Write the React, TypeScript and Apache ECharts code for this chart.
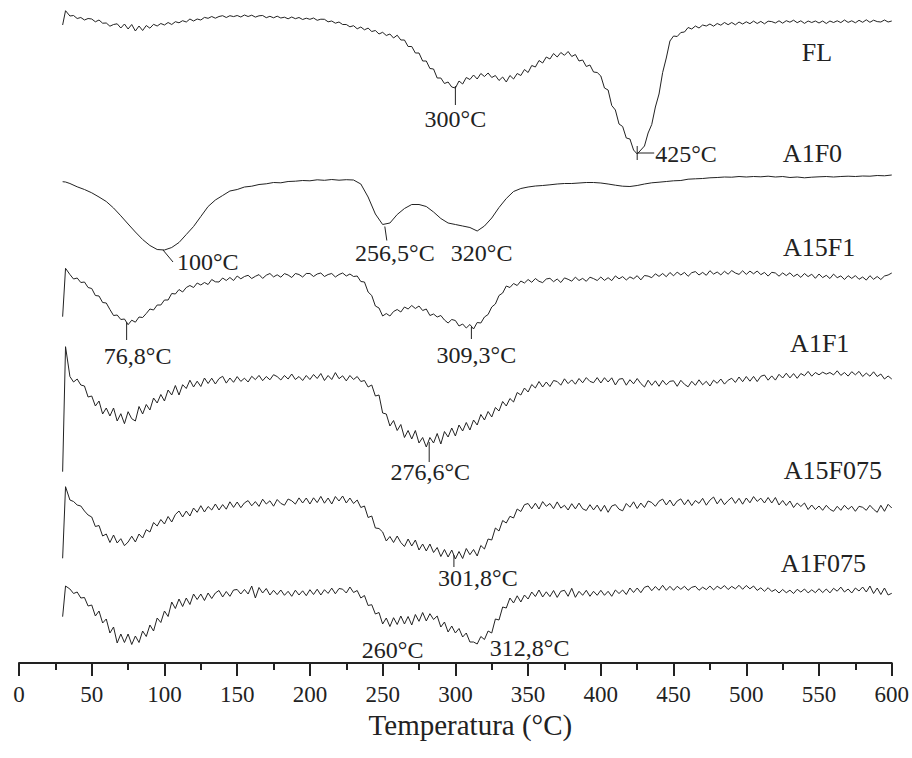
import React, { useEffect, useRef } from "react";
import * as echarts from "echarts";

// Temperatures (°C) at which the noisy curves were read
const TEMPS_FINE = [
  30, 32, 35, 37.5, 40, 42.5, 45, 47.5,
  50, 52.5, 55, 57.5, 60, 62.5, 65, 67.5, 70, 72.5, 75, 77.5, 80, 82.5, 85, 87.5, 90, 92.5, 95, 97.5,
  100, 102.5, 105, 107.5, 110, 112.5, 115, 117.5, 120, 122.5, 125, 127.5, 130, 132.5, 135, 137.5, 140, 142.5, 145, 147.5,
  150, 152.5, 155, 157.5, 160, 162.5, 165, 167.5, 170, 172.5, 175, 177.5, 180, 182.5, 185, 187.5, 190, 192.5, 195, 197.5,
  200, 202.5, 205, 207.5, 210, 212.5, 215, 217.5, 220, 222.5, 225, 227.5, 230, 232.5, 235, 237.5, 240, 242.5, 245, 247.5,
  250, 252.5, 255, 257.5, 260, 262.5, 265, 267.5, 270, 272.5, 275, 277.5, 280, 282.5, 285, 287.5, 290, 292.5, 295, 297.5,
  300, 302.5, 305, 307.5, 310, 312.5, 315, 317.5, 320, 322.5, 325, 327.5, 330, 332.5, 335, 337.5, 340, 342.5, 345, 347.5,
  350, 352.5, 355, 357.5, 360, 362.5, 365, 367.5, 370, 372.5, 375, 377.5, 380, 382.5, 385, 387.5, 390, 392.5, 395, 397.5,
  400, 402.5, 405, 407.5, 410, 412.5, 415, 417.5, 420, 422.5, 425, 427.5, 430, 432.5, 435, 437.5, 440, 442.5, 445, 447.5,
  450, 452.5, 455, 457.5, 460, 462.5, 465, 467.5, 470, 472.5, 475, 477.5, 480, 482.5, 485, 487.5, 490, 492.5, 495, 497.5,
  500, 502.5, 505, 507.5, 510, 512.5, 515, 517.5, 520, 522.5, 525, 527.5, 530, 532.5, 535, 537.5, 540, 542.5, 545, 547.5,
  550, 552.5, 555, 557.5, 560, 562.5, 565, 567.5, 570, 572.5, 575, 577.5, 580, 582.5, 585, 587.5, 590, 592.5, 595, 597.5,
  600,
];

// Temperatures (°C) at which the smooth A1F0 curve was read
const TEMPS_COARSE = [
  30, 32, 35, 40, 45,
  50, 55, 60, 65, 70, 75, 80, 85, 90, 95,
  100, 105, 110, 115, 120, 125, 130, 135, 140, 145,
  150, 155, 160, 165, 170, 175, 180, 185, 190, 195,
  200, 205, 210, 215, 220, 225, 230, 235, 240, 245,
  250, 255, 260, 265, 270, 275, 280, 285, 290, 295,
  300, 305, 310, 315, 320, 325, 330, 335, 340, 345,
  350, 355, 360, 365, 370, 375, 380, 385, 390, 395,
  400, 405, 410, 415, 420, 425, 430, 435, 440, 445,
  450, 455, 460, 465, 470, 475, 480, 485, 490, 495,
  500, 505, 510, 515, 520, 525, 530, 535, 540, 545,
  550, 555, 560, 565, 570, 575, 580, 585, 590, 595,
  600,
];

// DTG signals (arbitrary units) relative to each curve's own reference
const FL = [
  -5, 9.3, 4, 4.5, 1.5, 2.5, 0, 1.5,
  1, -1.8, 0, -3.2, -3, -6.2, -4.5, -3.8, -8, -4, -9, -4.5, -11, -6, -10.5, -5.5, -8.2, -4.3, -6, -3.5,
  -5, -2.5, -4.5, -1.7, -2.8, -0.7, -2, 1, -1, 1, 0, 2.6, 1.7, 3.5, 1.8, 3.5, 4.3, 2.5, 4.3, 3.4,
  4.5, 3, 5, 3.5, 4.8, 2.9, 4.2, 4.5, 2.3, 3.7, 2.2, 3.8, 2, 2.8, 1.2, 3, 1.3, 2.5, 0.5, 1.8,
  0.7, 2, -0.3, 0.8, 0.7, -1.8, -1, -3.2, -2, -4.5, -4.5, -6.8, -5.7, -8.8, -7, -9.8, -8.1, -11.5, -10.5, -14,
  -12.3, -15.5, -14, -18, -15.2, -20, -20, -26.5, -26.5, -33, -33, -41, -41, -48.5, -49, -58, -58, -63.5, -62, -67,
  -68, -61, -64, -57.5, -59.5, -55, -59, -53.5, -56.5, -53, -57.5, -55.5, -60.5, -57, -62, -55.5, -59, -53.5, -55.5, -49.5,
  -52.5, -45.5, -47, -40.5, -43, -37, -39, -33.5, -37, -32.5, -35.3, -31.5, -36.5, -34.5, -41, -40, -46.5, -45, -52, -52.5,
  -56, -68, -70, -85.5, -90, -104, -106.5, -118, -119, -130, -134, -130, -126, -113, -104.5, -87, -74, -52.5, -38, -21,
  -16, -16.5, -12.5, -12, -7.5, -9, -6, -8, -5, -6, -4, -6.2, -3.5, -5.2, -2.5, -4.7, -2.5, -4.8, -2, -4,
  -1.8, -3.7, -1.1, -3.5, -1.4, -3.8, -1.2, -1.6, -3, -0.8, -3.2, -0.7, -2.2, -0.2, -2.7, -0.8, -3.4, -1, -2.5, -1,
  -3, -1, -3.5, -1, -2.5, -0.8, -2.6, 0, -2.4, -0.8, -2.8, -0.3, -2.3, 0.2, -2.3, -0.2, -1.6, -2, 0, -2,
  -1,
];
const A1F0 = [
  -1.7, -2, -3.5, -6.8, -9.5,
  -12.8, -17, -21.5, -28, -35.8, -44, -52, -59.5, -65.5, -69.5,
  -70, -67.5, -62.5, -54.5, -46.5, -36.5, -26.5, -20, -15.5, -11,
  -9.5, -7, -6.2, -4.5, -3.8, -2.5, -2.8, -1.5, -1.2, -0.5,
  -0.8, 0.2, -0.3, 0.5, -0.2, 0.3, 0, -4, -17, -34,
  -44.5, -43, -34.5, -28.5, -24.5, -24.5, -26.5, -32, -38.5, -43,
  -44.5, -46, -47.5, -51, -46, -38, -27.5, -18.5, -11.5, -8.5,
  -7, -6, -5.5, -4.8, -4, -3.5, -3.5, -3, -2.5, -2.5,
  -3, -4, -5.2, -6.2, -6.5, -5.5, -4, -2.8, -2.2, -1.5,
  -0.8, -0.5, 0.8, 1.2, 1.5, 2.2, 2.5, 3, 2.8, 3.5,
  3, 3.5, 3.2, 3.8, 3, 3.5, 2.5, 3, 2.2, 2.8,
  3.2, 3.5, 3, 3.5, 3.8, 3.5, 4, 3.8, 4.5, 4.2,
  5,
];
const A15F1 = [
  -41.7, 6.7, 0.5, -4, -3, -7.5, -7, -12.5,
  -13.5, -20.5, -21, -27.5, -28, -34.5, -40.5, -40, -44.5, -44, -49.7, -45.2, -47.2, -42, -42.5, -38.5, -34, -35, -30, -30,
  -25, -25, -18.5, -19, -14.5, -17, -12.5, -10.5, -12.5, -8, -10, -7.5, -9.5, -4.5, -6.8, -7, -3, -5.5, -2.5, -5.5,
  -1, -3.8, -1.5, -0.3, -3.5, -1.3, 0.4, -3.4, -0.2, 1.5, -1.9, 0.2, -2.2, 1.4, 0, -2.5, 1.5, 0.5, -2, 1.5,
  1.5, -1.5, 1, 2, -1.5, 0.5, 1.5, -2, 0.5, 2, -1, 1, -1.5, -1, -6.5, -7, -17, -20.5, -31, -33,
  -41, -38.5, -41, -36.5, -34.5, -37, -32, -34, -30.5, -33.5, -31, -35.5, -34, -40.5, -39, -42, -40.5, -45, -48, -44.5,
  -45.5, -51, -49, -53, -49.5, -54, -47.5, -48, -42, -39.5, -32, -29, -20.5, -18, -11, -12.5, -8.5, -10.5, -6, -8,
  -4.5, -7.3, -3.5, -6.3, -7.6, -4, -3.3, -6.7, -4, -7.5, -2.9, -4.3, -6.2, -2.1, -5.5, -3.4, -6.3, -2.2, -3.6, -5.5,
  -2, -5.4, -2.7, -5.6, -0.9, -3.8, -1.6, -5, -1.9, -3.8, -0.7, -4.9, -0.5, -1.1, -2.7, 1.2, -1.4, 1.5, -1.7, 2.5,
  -0.8, 2.9, 0, 2.6, -1.3, 2.3, 3.4, 0, 2.6, -0.3, 4.3, 0.9, 3, 0.1, 3.7, 0.8, 4.4, 2, 0.6, 4.2,
  0.6, 3.9, 1.2, 4, 0.3, 2.6, -1.1, 2.7, 2, -1.2, 2.1, -0.6, 2.2, -1.5, 0.8, -2.4, 1.5, -1.6, 0.8, -3.3,
  1, -2.6, -0.3, -3.5, 0.9, -2.7, -0.9, -4.5, -0.7, -3.4, -0.6, -4.3, -2, -5.1, -0.7, -4.3, -1.5, -4.5, -1, 0,
  2,
];
const A1F1 = [
  -93.7, 31.3, 1.5, -4, -1, -7, -8, -19,
  -18, -28, -23, -36, -30, -38, -30, -43, -35.7, -45.7, -33.7, -40.7, -43, -28.5, -36, -26.5, -32, -20, -25, -16.5,
  -23, -12, -17, -7.5, -17, -6.7, -10.5, -2.2, -9, -3.2, -8.5, 0, -5.5, -0.2, -6, -0.6, 1.7, -5.1, 0, -4.3,
  1.4, -3.4, -0.2, -4, 1.7, -1.6, 2.6, -2.7, 1.5, -1.8, 3.3, 1.4, -2, 2.5, -1, 4, -1.5, 1.5, -2.5, 2.5,
  -1.5, 3.5, -0.5, 4.5, -2.5, 2.5, -1.5, 5.4, -0.7, 2.2, -2.9, 2.5, -1.5, 1.5, -3.5, -2.5, -9, -7, -18, -17,
  -35, -36, -48, -42.5, -52.5, -46.5, -59.5, -52.5, -61, -52.5, -65, -59.5, -69, -59.5, -65, -55.5, -66, -53.5, -59, -50,
  -58, -47, -53, -44.5, -52, -42, -47, -36.5, -42, -33.5, -39, -29.5, -33, -23.5, -28, -20.5, -24, -14.5, -17, -10,
  -14, -6.5, -10, -3.5, -9, -4, -8.5, -2.5, -3.5, -7.2, -0.8, -5.6, -1.9, -6.2, -0.5, -4.8, 0.4, -3.4, -4.7, 0.4,
  -5, 0.3, -4, 0.2, -7, -1.2, -0.5, -7.2, -1.7, -5.8, -0.5, -5.5, -9, -2.2, -7.3, -2.8, -8.3, -2.3, -6.8, -3.3,
  -2.8, -8.3, -2.3, -6.3, -8.8, -3.3, -7.3, -1.8, -6.8, -3.3, -8, -2.2, -5.3, -1, -6.1, -2.2, -0.3, -4.4, 1, -3.7,
  1.5, -3.2, 1.6, -3.6, 1.7, 3, -2.2, 2.1, -2.1, 3.7, 0, 4.8, 0.1, 4.4, -0.3, 4.5, 2.3, 6.6, 1.8, 5.5,
  3.2, 5.8, 3.9, 5.5, 3.1, 7.2, 2.6, 5.5, 1.9, 6.3, 3.2, 6.6, 1.5, 4.9, 1.8, 6.2, 1.5, 4, -1, 2,
  -1,
];
const A15F075 = [
  -55.3, 16.3, 3, 1.5, -2, -3, -8, -12,
  -14, -23.5, -22.5, -33, -31, -39.5, -32, -40, -35.7, -42.7, -39, -33.2, -39, -31, -35, -26.7, -29, -19.5, -23, -16.5,
  -21, -13.5, -19, -11.5, -8, -14, -8, -13, -5, -9.3, -2.7, -9, -3.5, -7, -1, -7, -1.6, -6.2, 1.2, -4.4,
  1, -4.7, 0.1, 2.4, -2.8, 1.4, -3.4, 3.8, -1, 2.2, -3.2, 3.5, -0.4, -2.2, 4, 2.2, -1.1, 5.1, 0, 5,
  -1, 5.2, 0.4, 6.6, -0.2, 5, -1, 6.5, 2, 7, 0, 5, -0.5, 3, -4.5, -3, -14.5, -13, -25, -25.5,
  -29, -38, -33.5, -39.5, -33, -39.5, -43.5, -36, -43, -37, -47, -41, -48, -41, -49.5, -44.5, -53.5, -46.5, -54, -47,
  -56, -48.5, -55.5, -45.5, -51.7, -46.5, -53, -42.5, -46, -36, -37, -25, -28, -17.5, -20, -13.3, -15, -6, -8.5, -1.7,
  -0.5, -5.8, -0.2, -6, 1.4, -3.3, -0.5, -5.7, 1.1, -5.1, -2.3, -7, -0.7, -5.9, -0.1, -5.8, -7.5, -1.7, -6.9, -2.1,
  -8.3, -2.3, -9.3, -3, -1.6, -6.2, -7.8, -0.5, -4.2, 1.2, -5.5, 0, -4.5, 2, 0.5, -3.3, 1.8, 3.9, -2, 3,
  -3, 2, 4.1, -1.8, 3.3, -2.6, 2.5, -0.4, 4.7, -2.2, 2.9, 6, -0.9, 4.2, -1.7, 2.4, 5.5, -0.4, 4.7, -1.2,
  5, 0.2, 6.4, 1.6, 4.8, 0, 5.5, 0, 5.5, -2, 2.5, -2.5, 2, -4.5, 0, -3.5, 0, -6.5, -2, -6.5,
  -3, -7.3, -2.3, -6.3, -8.3, -3.3, -7.3, -2.3, -6.3, -3.3, -8.3, -3.3, -4.3, -7.3, -2.3, -6.3, -9.3, -2.3, -8.3, -1.3,
  -5,
];
const A1F075 = [
  -26.7, 4, 1, -3.5, -2, -8, -7.5, -16,
  -15, -26, -21, -33, -29, -43, -37, -53, -44, -52.5, -44, -54.5, -46, -52.5, -41, -46.5, -35, -41, -28, -32.5,
  -21, -26.5, -12, -18.5, -9, -16.5, -8, -14.5, -4, -9.5, -4, -10.5, -3, -8.5, -3, -0.5, -7, -1.5, -6.3, 0,
  0.5, -4, 0.5, -4, 4, -8, 2.5, -3, 1.5, -5, -0.3, -4.6, 0, -5.3, -1.3, -6.3, -0.2, -5, -0.8, -5.7,
  0.3, -4.5, 0.8, -5, 0.3, -3.4, 1.9, -3.8, 1.5, 0.8, -3, 3, -2.5, -0.5, -8, -5.5, -15.5, -14.7, -24, -22.5,
  -34, -28, -36.5, -27.7, -34.5, -26, -34, -26.5, -35, -24.5, -31.3, -22.5, -31, -23.7, -29.5, -26, -37, -32, -42, -36,
  -43, -38.5, -47, -43, -52, -52, -54, -46.5, -49.5, -41, -43, -29, -30, -17, -18, -8, -13, -5.8, -12, -5,
  -9, -2, -6.5, 0, -7, -1.8, -6.6, -0.5, -7.4, -1.3, -0.3, -6.3, 1.7, -7.3, -1.3, -5.3, -0.3, -6.3, -1.3, -5.3,
  -0.3, -5.3, -1.3, -6.3, 0, -3.5, 0, -4.5, 2, -2.5, 2, -2.7, 2.7, 4, -0.7, 3.5, -0.3, 4.7, -0.3, 3.7,
  -0.3, 3.7, 0.7, 3.7, -0.3, 2.7, 3.7, -0.3, 2.8, 0.4, 4, 0.1, 3.7, 1.3, 4.4, 0.5, 3.6, 1.2, 4.7, 0.7,
  4.5, 1.2, 4, -0.4, 2.2, -1.3, 2.3, -1.5, 0.5, -3, 0.5, -2.7, -0.2, -3.5, 0.7, -2.1, 1, -2.9, 0.2, -2.7,
  1.3, -2.6, 1, -2.9, 1.7, -1.2, 2.9, -2, 1, -3, 2, -1, 3, -2, 4, -3.5, 2, -4.5, 2, -5,
  -3.3,
];

const SERIES_NAMES = ["FL", "A1F0", "A15F1", "A1F1", "A15F075", "A1F075"];
const SERIES_VALUES = [FL, A1F0, A15F1, A1F1, A15F075, A1F075];
const SERIES_TEMPS = [TEMPS_FINE, TEMPS_COARSE, TEMPS_FINE, TEMPS_FINE, TEMPS_FINE, TEMPS_FINE];
// vertical stacking offsets of each curve
const STACK_OFFSETS = [643, 483, 388, 285, 160, 73];

// curve name labels: temperature and signal where each label is centred
const LABEL_TEMPS = [548.5, 545.5, 550, 550.5, 559.5, 553];
const LABEL_SIGNALS = [-32, 27, 28, 35, 33, 27];

// peak annotations
const ANN_SERIES = [0, 0, 1, 1, 1, 2, 2, 3, 4, 5, 5];
const ANN_TEMPS = [300, 425, 99, 251.5, 316, 74, 311, 282, 299, 261, 312];
const ANN_SIGNALS = [-66, -133, -70, -46.5, -51, -47, -52, -64, -52, -32, -53];
const ANN_TEXTS = [
  "300°C", "425°C", "100°C", "256,5°C", "320°C",
  "76,8°C", "309,3°C", "276,6°C", "301,8°C", "260°C", "312,8°C",
];

// layout of each annotation relative to its anchor (pixels)
const ANN_LAYOUT: { lines: number[][]; tx: number; ty: number; align: string }[] = [
  { lines: [[0, 0, 0, 19]], tx: 0, ty: 33, align: "center" },
  { lines: [[0, -7, 0, 7], [0, 0, 17, 0]], tx: 18, ty: 1, align: "left" },
  { lines: [[0, 0, 10, 12]], tx: 14, ty: 12, align: "left" },
  { lines: [[0, 0, 2, 14]], tx: 10, ty: 26, align: "center" },
  { lines: [], tx: 3, ty: 22, align: "center" },
  { lines: [[0, 0, 0, 18]], tx: 11, ty: 34, align: "center" },
  { lines: [[0, 0, 0, 12]], tx: 5, ty: 28, align: "center" },
  { lines: [[0, 0, 0, 20]], tx: 1, ty: 30, align: "center" },
  { lines: [[0, 0, 0, 12]], tx: 24, ty: 23, align: "center" },
  { lines: [], tx: -6, ty: 28, align: "center" },
  { lines: [], tx: 17, ty: 5, align: "left" },
];

const FONT = '"Liberation Serif", "Times New Roman", serif';
const INK = "#222";

export default function App() {
  const ref = useRef<HTMLDivElement>(null);

  useEffect(() => {
    if (!ref.current) return;
    const chart = echarts.init(ref.current, undefined, { renderer: "svg" });

    const series = SERIES_VALUES.map((vals, s) => {
      const temps = SERIES_TEMPS[s];
      const n = Math.min(temps.length, vals.length);
      const data: number[][] = [];
      for (let i = 0; i < n; i++) data.push([temps[i], STACK_OFFSETS[s] + vals[i]]);
      return {
        name: SERIES_NAMES[s],
        type: "line",
        data,
        symbol: "none",
        silent: true,
        lineStyle: { color: INK, width: 1 },
        z: 2,
      };
    });

    chart.setOption({
      animation: false,
      backgroundColor: "#fff",
      grid: { left: 19, right: 20, top: 0, bottom: 95, containLabel: false },
      xAxis: {
        type: "value",
        min: 0,
        max: 600,
        interval: 50,
        name: "Temperatura (°C)",
        nameLocation: "middle",
        nameGap: 33,
        nameTextStyle: { fontFamily: FONT, fontSize: 29, color: INK, padding: [0, 0, 0, 30] },
        axisLine: { show: true, lineStyle: { color: INK, width: 2 } },
        axisTick: { show: true, length: 13, lineStyle: { color: INK, width: 2 } },
        minorTick: { show: true, splitNumber: 2, length: 7, lineStyle: { color: INK, width: 2 } },
        axisLabel: { fontFamily: FONT, fontSize: 23, color: INK, margin: 20 },
        splitLine: { show: false },
      },
      yAxis: {
        type: "value",
        min: 0,
        max: 663,
        show: false,
        splitLine: { show: false },
      },
      series,
    });

    const toPx = (t: number, v: number) =>
      chart.convertToPixel({ xAxisIndex: 0, yAxisIndex: 0 }, [t, v]) as number[];

    const graphics: any[] = [];
    SERIES_NAMES.forEach((name, s) => {
      const [x, y] = toPx(LABEL_TEMPS[s], STACK_OFFSETS[s] + LABEL_SIGNALS[s]);
      graphics.push({
        type: "text",
        x,
        y,
        silent: true,
        style: {
          text: name,
          font: `26px ${FONT}`,
          fill: INK,
          align: "center",
          verticalAlign: "middle",
          textAlign: "center",
          textVerticalAlign: "middle",
        },
      });
    });

    ANN_TEXTS.forEach((text, k) => {
      const s = ANN_SERIES[k];
      const [ax, ay] = toPx(ANN_TEMPS[k], STACK_OFFSETS[s] + ANN_SIGNALS[k]);
      const lay = ANN_LAYOUT[k];
      lay.lines.forEach((l) => {
        graphics.push({
          type: "line",
          silent: true,
          shape: { x1: ax + l[0], y1: ay + l[1], x2: ax + l[2], y2: ay + l[3] },
          style: { stroke: INK, lineWidth: 1 },
        });
      });
      graphics.push({
        type: "text",
        x: ax + lay.tx,
        y: ay + lay.ty,
        silent: true,
        style: {
          text,
          font: `24px ${FONT}`,
          fill: INK,
          align: lay.align,
          verticalAlign: "middle",
          textAlign: lay.align,
          textVerticalAlign: "middle",
        },
      });
    });

    chart.setOption({ graphic: graphics });

    return () => chart.dispose();
  }, []);

  return (
    <div
      ref={ref}
      style={{ position: "fixed", left: 0, top: 0, width: 912, height: 758, background: "#fff" }}
    />
  );
}
